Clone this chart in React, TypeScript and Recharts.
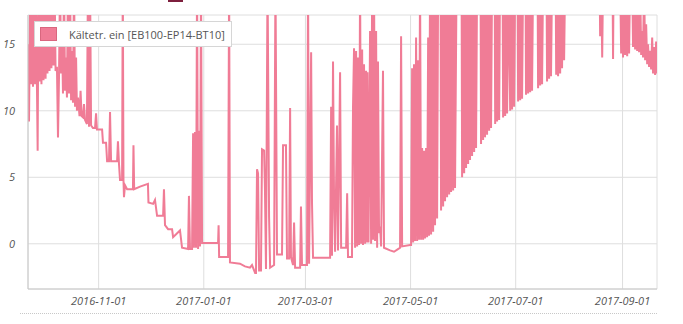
import { LineChart, Line, XAxis, YAxis, CartesianGrid, Legend } from 'recharts'

// day = days since START, temp = brine-in temperature in °C (values above 17 run off the top)
const START = '2016-09-21'
const DAY = 86400000

const autumn: [number, number][] = [
  [0.0, 15], [0.6, 9.2], [1.2, 18], [1.7, 12], [2.3, 20], [2.9, 11.8], [3.5, 20], [4.1, 12],
  [4.6, 20], [5.2, 11.8], [5.6, 7.0], [6.1, 20], [6.7, 12.2], [7.3, 20], [7.8, 12], [8.4, 20],
  [9.0, 12.3], [9.6, 20], [10.2, 12.4], [10.7, 20], [11.3, 12.8], [11.9, 20], [12.5, 13], [13.1, 20],
  [13.6, 13.2], [14.2, 18], [14.8, 13.4], [15.4, 20], [16.0, 13.0], [16.8, 13.3], [17.4, 8.0], [18.0, 12.6],
  [18.6, 20], [19.2, 12.8], [19.7, 16], [20.3, 11.3], [20.9, 20], [21.5, 11.5], [22.1, 14], [22.6, 11],
  [23.2, 20], [23.8, 11.3], [24.4, 20], [25.0, 10.8], [25.5, 14.5], [26.1, 10.6], [26.7, 20], [27.3, 10.3],
  [27.9, 14], [28.4, 10], [29.0, 11], [29.9, 9.6], [30.5, 11.5], [31.1, 9.6], [31.9, 9.5], [32.5, 10.5],
  [33.1, 9.3], [34.2, 9.0], [34.8, 20], [35.4, 8.8], [36.0, 20], [36.6, 8.9], [37.7, 8.7], [38.9, 8.7],
  [39.5, 9.8], [40.0, 8.6], [43.0, 8.6],
]

const winter: [number, number][] = [
  [43.5, 7.6], [45.3, 7.6], [45.9, 6.2], [47.0, 6.2], [47.6, 9.9], [48.2, 6.2], [51.7, 6.2], [52.2, 7.7],
  [52.8, 6.0], [53.4, 4.8], [54.6, 4.8], [55.0, 20], [55.4, 4.8], [55.7, 3.5], [56.3, 4.4], [57.5, 4.1],
  [60.9, 4.1], [61.2, 7.4], [61.6, 4.1], [65.0, 4.3], [69.6, 4.5], [69.9, 3.1], [72.6, 3.0], [73.7, 3.3],
  [74.9, 2.1], [78.4, 2.1], [78.9, 4.1], [79.5, 1.4], [81.3, 1.1], [83.6, 1.1], [84.2, 0.5], [88.2, 1.0],
  [89.4, -0.3], [92.9, -0.4], [93.4, 3.6], [94.0, -0.4], [95.2, -0.4], [95.8, 8.3], [96.3, -0.3], [96.9, 8.4],
  [97.5, -0.3], [98.1, 20], [98.7, -0.4], [99.2, 8.5], [99.8, -0.2], [100.4, 20], [101.0, 0.05], [110.3, 0.05],
  [110.6, 1.4], [110.9, -1.0], [116.1, -1.0], [116.7, 20], [117.2, -1.4], [123.0, -1.5], [125.9, -1.7], [128.8, -1.8],
  [130.0, -1.6], [131.8, -2.2], [132.3, -2.2], [132.9, 5.6], [133.5, 5.3], [134.1, -2.0], [135.2, -2.0], [135.8, 7.1],
  [137.0, 7.0], [137.5, 4.1], [138.1, -1.9], [139.0, 20], [139.9, 2.0], [140.5, -1.8], [142.8, -1.6], [143.6, 20],
  [144.5, -0.8], [147.4, -0.8], [148.0, 7.4], [149.7, 7.4], [150.3, -1.1], [151.5, -1.1], [152.1, 10.2], [152.6, -1.0],
  [153.8, -1.6], [154.4, 1.6], [155.0, -1.8], [157.9, -1.8], [158.4, 2.8], [159.0, -1.6], [161.9, -1.6], [162.5, 20],
  [163.1, -1.5], [164.3, 14.4], [164.8, 3.1], [165.4, -1.05], [175.3, -1.05], [175.9, 10.3], [176.4, -0.9], [177.0, 13.7],
  [177.6, 3.3], [178.2, -0.6], [179.3, 8.9], [179.9, -0.5], [181.1, 12.9], [181.7, -0.3], [184.6, -0.3], [185.2, 3.8],
  [185.7, -1.0], [188.0, -1.0],
]

const spring: [number, number][] = [
  [188.6, 10.3], [189.2, 14.7], [189.8, -0.3], [190.4, 14.5], [191.0, -0.2], [191.5, 14.0], [192.1, -0.1], [192.7, 20],
  [193.3, 0], [193.9, 14.6], [194.4, -0.1], [195.0, 13.5], [195.6, 0], [196.2, 13.0], [196.8, 0.1], [197.0, 12.9],
  [197.6, 0.1], [198.5, 16], [199.1, 0], [199.7, 20], [200.2, 0.3], [200.8, 20], [201.4, 0.2], [202.0, 16],
  [202.6, -0.3], [203.1, 13.7], [203.7, 0.8], [204.3, 1.3], [204.9, -0.2], [206.0, 13.0], [206.6, -0.3], [210.1, -0.5],
  [212.4, -0.6], [214.7, -0.4], [215.9, -0.3], [216.5, 15.6], [217.1, -0.2], [221.7, -0.1],
]

const thaw: [number, number][] = [
  [222.3, -0.1], [222.9, 13.2], [223.5, 0.1], [224.0, 13.5], [224.6, 0.2], [225.2, 15.5], [225.8, 0.2], [226.4, 13.8],
  [226.9, 0.3], [227.5, 20], [228.1, 0.3], [228.7, 7.2], [229.3, 0.3], [229.8, 7.0], [230.4, 0.4], [231.0, 7.2],
  [231.6, 0.5], [232.2, 15.5], [232.7, 0.6], [233.3, 20], [233.9, 0.7], [234.5, 20], [235.1, 0.9], [235.7, 20],
  [236.2, 1.4], [236.8, 20], [237.4, 1.9], [238.0, 20], [239.4, 20], [239.7, 2.5], [240.3, 20], [240.9, 2.8],
  [241.5, 20], [242.0, 3.2], [242.6, 20], [243.2, 3.5], [243.8, 20], [244.4, 3.7], [244.9, 20], [245.5, 3.9],
  [246.1, 20], [246.7, 4.0], [247.3, 20], [247.8, 4.2], [248.7, 20], [251.6, 20], [251.9, 5.0], [252.5, 20],
  [253.1, 5.3], [253.7, 20], [254.2, 5.7], [254.8, 20], [255.4, 6.0], [256.0, 20], [256.5, 6.3], [257.1, 20],
  [257.7, 6.6], [258.3, 20], [258.9, 6.9], [259.4, 20], [260.0, 7.2], [260.6, 20], [262.6, 20], [262.9, 7.5],
  [263.5, 20], [264.1, 7.8], [264.7, 20], [265.2, 8.0], [265.8, 20], [266.4, 8.2], [267.0, 20], [267.6, 8.5],
  [268.1, 20], [268.7, 8.7], [269.3, 20], [270.8, 20], [271.1, 9.0], [271.6, 20], [272.2, 9.2], [272.8, 20],
  [273.4, 9.3], [273.9, 20], [275.4, 20], [275.7, 9.5], [276.3, 20], [276.9, 9.6], [277.4, 20], [278.0, 9.8],
  [278.9, 20], [279.8, 10.0], [280.3, 20], [280.9, 10.1], [281.5, 20], [282.1, 10.3], [282.7, 20], [284.1, 20],
  [284.4, 10.7], [285.0, 20], [285.6, 10.8], [286.2, 20], [286.7, 10.9], [287.3, 20], [288.7, 20], [289.0, 11.2],
  [289.6, 20], [290.2, 11.3], [290.8, 20], [291.4, 11.4], [291.9, 20], [292.5, 11.5], [293.1, 20], [295.7, 20],
  [296.0, 11.7], [296.6, 20], [297.2, 11.9], [297.7, 20], [298.3, 12.0], [298.9, 20], [300.9, 20], [301.2, 12.2],
  [301.8, 20], [302.4, 12.4], [303.0, 20], [303.5, 12.6], [304.1, 20], [306.2, 20], [306.5, 12.7], [307.0, 20],
  [307.6, 12.6], [308.2, 20], [308.8, 12.8], [309.3, 20], [309.9, 13.2], [310.5, 20], [311.1, 13.8], [311.7, 20],
]

const summer: [number, number][] = [
  [331.7, 20], [332.0, 15.6], [332.6, 20], [333.2, 14.0], [333.7, 20], [339.2, 20], [339.5, 13.9], [339.8, 20],
  [343.6, 20], [344.2, 14.3], [344.8, 20], [345.3, 14.0], [345.9, 20], [346.5, 14.2], [347.1, 20], [347.7, 14.1],
  [348.2, 20], [348.8, 14.3], [349.4, 20], [350.6, 20], [351.1, 14.8], [351.7, 20], [352.3, 14.6], [352.9, 20],
  [353.5, 14.5], [354.0, 20], [354.6, 14.4], [355.2, 20], [355.8, 14.2], [356.4, 16], [356.9, 14.0], [357.5, 20],
  [358.1, 13.8], [358.7, 16.5], [359.3, 13.5], [359.8, 15], [360.4, 13.3], [361.0, 14.5], [361.6, 13.1], [362.2, 15.5],
  [362.7, 12.8], [363.3, 14.8], [363.9, 12.7], [364.5, 15.2], [365.0, 12.8],
]

const TICK_LABELS = ['2016-11-01', '2017-01-01', '2017-03-01', '2017-05-01', '2017-07-01', '2017-09-01']
const Y_TICKS = [0, 5, 10, 15]
const Y_DOMAIN = [-3.4, 17.2]
const X_DOMAIN = [0, 365]
const SERIES_NAME = 'Kältetr. ein [EB100-EP14-BT10]'
const PINK = '#f07c96'

const dayOf = (s: string) => (Date.parse(s) - Date.parse(START)) / DAY
const xTicks = TICK_LABELS.map(dayOf)

const data = [...autumn, ...winter, ...spring, ...thaw, ...summer].map(([day, temp]) => ({ day, temp }))

const tickStyle = { fontSize: 11, fontStyle: 'italic', fill: '#555', fontFamily: 'Open Sans' }

function renderLegend(props: any) {
  const item = props.payload && props.payload[0]
  return (
    <div
      style={{
        display: 'flex',
        alignItems: 'center',
        background: '#fff',
        border: '1px solid #d6d6d6',
        padding: '5px 6px 5px 5px',
        fontFamily: 'Open Sans',
        fontSize: 11,
        lineHeight: '13px',
        color: '#555',
        whiteSpace: 'nowrap',
      }}
    >
      <span
        style={{
          display: 'inline-block',
          width: 15,
          height: 12,
          background: PINK,
          border: '1px solid #d9677f',
          marginRight: 12,
        }}
      />
      <span>{item ? item.value : SERIES_NAME}</span>
    </div>
  )
}

export default function App() {
  return (
    <div style={{ position: 'absolute', left: 0, top: 0, width: 683, height: 324, background: '#fff' }}>
      <div style={{ position: 'absolute', left: 168, top: 0, width: 15, height: 2, background: '#7d1f3d' }} />
      <LineChart
        width={683}
        height={324}
        data={data}
        margin={{ top: 15, right: 26, bottom: 5, left: 0 }}
        style={{ fontFamily: 'Open Sans' }}
      >
        <CartesianGrid stroke="#dedede" />
        <XAxis
          dataKey="day"
          type="number"
          domain={X_DOMAIN}
          ticks={xTicks}
          tickFormatter={(v, i) => TICK_LABELS[i]}
          tick={tickStyle}
          tickLine={false}
          axisLine={{ stroke: '#c8c8c8' }}
          height={30}
          allowDataOverflow
        />
        <XAxis xAxisId="top" orientation="top" type="number" domain={X_DOMAIN} height={0} tick={false} tickLine={false} axisLine={{ stroke: '#d6d6d6' }} />
        <YAxis
          type="number"
          domain={Y_DOMAIN}
          ticks={Y_TICKS}
          tick={tickStyle}
          tickLine={false}
          tickMargin={7}
          axisLine={{ stroke: '#c8c8c8' }}
          width={28}
          allowDataOverflow
        />
        <YAxis yAxisId="right" orientation="right" type="number" domain={Y_DOMAIN} width={0} tick={false} tickLine={false} axisLine={{ stroke: '#d6d6d6' }} />
        <Legend
          layout="horizontal"
          align="center"
          verticalAlign="middle"
          content={renderLegend}
          wrapperStyle={{ left: 34, top: 21, width: 'auto', height: 'auto' }}
        />
        <Line
          type="linear"
          dataKey="temp"
          name={SERIES_NAME}
          stroke={PINK}
          strokeWidth={2}
          dot={false}
          activeDot={false}
          isAnimationActive={false}
        />
      </LineChart>
      <div style={{ position: 'absolute', left: 20, top: 313, width: 637, borderTop: '1px dotted #c8c8c8' }} />
    </div>
  )
}
